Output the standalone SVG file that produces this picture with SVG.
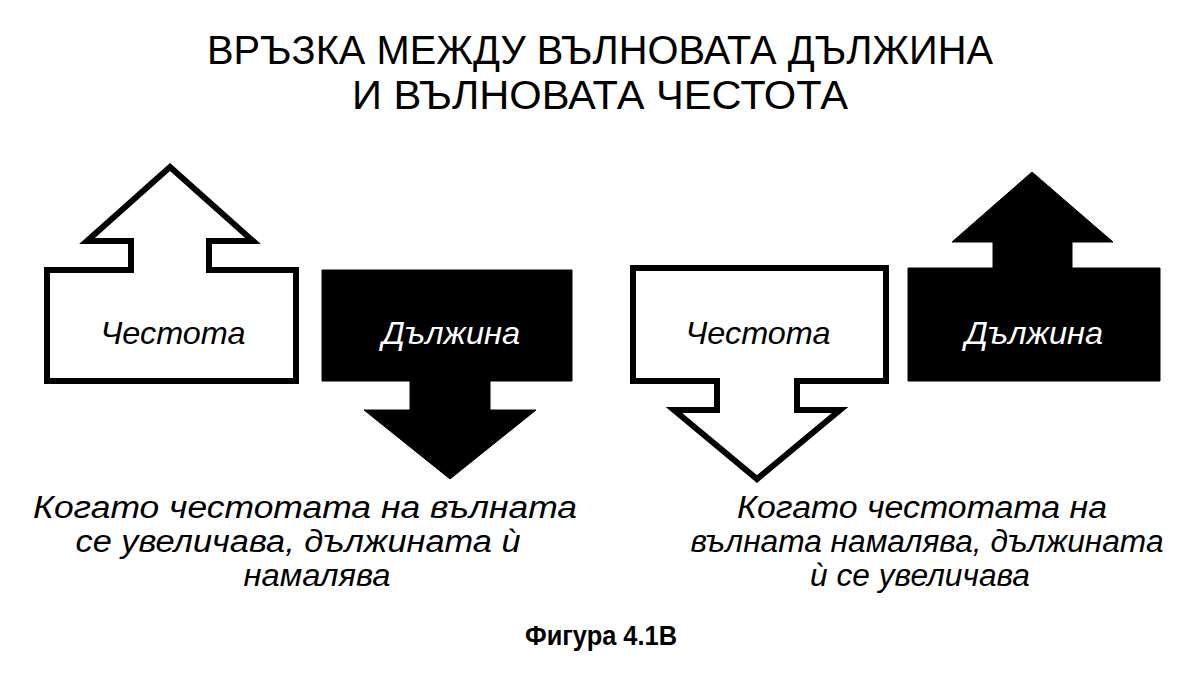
<svg xmlns="http://www.w3.org/2000/svg" width="1200" height="677" viewBox="0 0 1200 677">
<style>
.bg{fill:#fff}
.outline{fill:#fff;stroke:#000;stroke-width:6;stroke-linejoin:miter}
.solid{fill:#000;stroke:#000;stroke-width:1}
.title{font-family:"Liberation Sans","Noto Sans",Arial,sans-serif;font-size:40px;fill:#000;text-anchor:middle}
.lbl{font-family:"Liberation Sans","Noto Sans",Arial,sans-serif;font-style:italic;font-size:32px;text-anchor:middle}
.cap{font-family:"Liberation Sans","Noto Sans",Arial,sans-serif;font-style:italic;font-size:31px;fill:#000;text-anchor:middle}
.fig{font-family:"Liberation Sans","Noto Sans",Arial,sans-serif;font-weight:bold;font-size:27px;fill:#000;text-anchor:middle}
</style>
<rect class="bg" x="0" y="0" width="1200" height="677"/>
<g id="title">
<text class="title" x="600" y="64" textLength="786" lengthAdjust="spacingAndGlyphs">ВРЪЗКА МЕЖДУ ВЪЛНОВАТА ДЪЛЖИНА</text>
<text class="title" x="600" y="109" textLength="496" lengthAdjust="spacingAndGlyphs">И ВЪЛНОВАТА ЧЕСТОТА</text>
</g>
<g id="connectors"></g>
<g id="left-frequency-up">
<path class="outline" d="M170 167 L253 241 L209 241 L209 270 L296 270 L296 381 L47 381 L47 270 L131 270 L131 241 L87 241 Z"/>
<text class="lbl" x="173" y="344" fill="#000" textLength="145" lengthAdjust="spacingAndGlyphs">Честота</text>
</g>
<g id="left-length-down">
<path class="solid" d="M322 270 H572 V381 H490 V410 H536 L450 479 L364 410 H410 V381 H322 Z"/>
<text class="lbl" x="451" y="344" fill="#fff" textLength="138" lengthAdjust="spacingAndGlyphs">Дължина</text>
</g>
<g id="right-frequency-down">
<path class="outline" d="M633 268 H886 V381 H797 V410 H840 L757 479 L674 410 H717 V381 H633 Z"/>
<text class="lbl" x="758" y="344" fill="#000" textLength="145" lengthAdjust="spacingAndGlyphs">Честота</text>
</g>
<g id="right-length-up">
<path class="solid" d="M1032 172 L1113 242 H1072 V268 H1160 V381 H908 V268 H993 V242 H952 Z"/>
<text class="lbl" x="1034" y="344" fill="#fff" textLength="138" lengthAdjust="spacingAndGlyphs">Дължина</text>
</g>
<g id="left-caption">
<text class="cap" x="305" y="518" textLength="544" lengthAdjust="spacingAndGlyphs">Когато честотата на вълната</text>
<text class="cap" x="298" y="552" textLength="445" lengthAdjust="spacingAndGlyphs">се увеличава, дължината ѝ</text>
<text class="cap" x="317" y="586" textLength="147" lengthAdjust="spacingAndGlyphs">намалява</text>
</g>
<g id="right-caption">
<text class="cap" x="922" y="518" textLength="370" lengthAdjust="spacingAndGlyphs">Когато честотата на</text>
<text class="cap" x="927" y="552" textLength="473" lengthAdjust="spacingAndGlyphs">вълната намалява, дължината</text>
<text class="cap" x="920" y="586" textLength="220" lengthAdjust="spacingAndGlyphs">ѝ се увеличава</text>
</g>
<g id="figure-label">
<text class="fig" x="601" y="645" textLength="152" lengthAdjust="spacingAndGlyphs">Фигура 4.1В</text>
</g>
</svg>
